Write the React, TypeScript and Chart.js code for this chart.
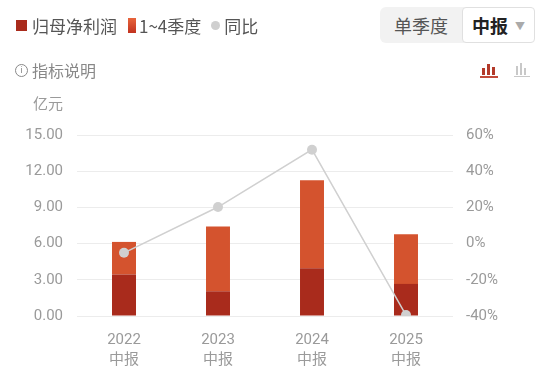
import React, { useEffect, useRef } from "react";
import { Chart, registerables } from "chart.js";
Chart.register(...registerables);

const years = ["2022", "2023", "2024", "2025"];
const periodLabel = "中报";
const netProfitPart = [3.44, 2.05, 3.96, 2.66]; // 归母净利润 (dark)
const quarterPart = [2.7, 5.37, 7.28, 4.12]; // 1~4季度 (orange)
const yoyPct = [-5.1, 20.2, 51.9, -39.5]; // 同比 %
const leftMin = 0, leftMax = 15, leftStep = 3;
const rightMin = -40, rightMax = 60, rightStep = 20;
const legendNames = ["归母净利润", "1~4季度", "同比"];

const CJK = "Roboto, 'Noto Sans CJK SC', sans-serif";
const DARK = "#a92b1c";
const ORANGE = "#d4532e";
const GREY = "#d0d0d0";

export default function App() {
  const ref = useRef<HTMLCanvasElement | null>(null);
  useEffect(() => {
    if (!ref.current) return;
    const chart = new Chart(ref.current, {
      type: "bar",
      data: {
        labels: years.map((y) => [y, periodLabel]),
        datasets: [
          {
            type: "line",
            label: legendNames[2],
            data: yoyPct,
            yAxisID: "y1",
            borderColor: GREY,
            borderWidth: 1.5,
            pointRadius: 5,
            pointBackgroundColor: "#d0d0d0",
            pointBorderWidth: 0,
            order: 0,
            tension: 0,
          } as any,
          {
            type: "bar",
            label: legendNames[0],
            data: netProfitPart,
            yAxisID: "y",
            backgroundColor: DARK,
            barPercentage: 0.255,
            categoryPercentage: 1,
            order: 1,
            stack: "s",
          },
          {
            type: "bar",
            label: legendNames[1],
            data: quarterPart,
            yAxisID: "y",
            backgroundColor: ORANGE,
            barPercentage: 0.255,
            categoryPercentage: 1,
            order: 1,
            stack: "s",
          },
        ],
      },
      options: {
        animation: false,
        responsive: false,
        maintainAspectRatio: false,
        layout: { padding: { top: 135, left: 0, right: 0, bottom: 0 } },
        plugins: { legend: { display: false }, tooltip: { enabled: false } },
        scales: {
          x: {
            stacked: true,
            grid: { display: false, drawTicks: false },
            border: { display: false },
            ticks: { color: "#9a9a9a", font: { size: 15, family: CJK, lineHeight: 1.35 }, padding: 14, maxRotation: 0 },
            afterFit: (s: any) => { s.height = 65; },
          },
          y: {
            position: "left",
            stacked: true,
            min: leftMin,
            max: leftMax,
            ticks: {
              stepSize: leftStep,
              color: "#9a9a9a",
              font: { size: 15, family: CJK },
              padding: 14,
              callback: (v: any) => Number(v).toFixed(2),
            },
            grid: { color: "#ececec", drawTicks: false, lineWidth: 1 },
            border: { display: false },
            afterFit: (s: any) => { s.width = 77; },
          },
          y1: {
            position: "right",
            min: rightMin,
            max: rightMax,
            ticks: {
              stepSize: rightStep,
              color: "#9a9a9a",
              font: { size: 15, family: CJK },
              padding: 13,
              callback: (v: any) => `${v}%`,
            },
            grid: { display: false, drawTicks: false },
            border: { display: false },
            afterFit: (s: any) => { s.width = 97; },
          },
        },
      },
    });
    return () => chart.destroy();
  }, []);

  const font = "'Noto Sans CJK SC', sans-serif";
  return (
    <div style={{ position: "absolute", left: 0, top: 0, width: 550, height: 381, background: "#fff", fontFamily: font, overflow: "hidden" }}>
      <canvas ref={ref} width={550} height={381} style={{ position: "absolute", left: 0, top: 0, width: 550, height: 381 }} />
      {/* legend */}
      <div style={{ position: "absolute", left: 16, top: 13, height: 24, display: "flex", alignItems: "center", fontSize: 17, color: "#555", whiteSpace: "nowrap" }}>
        <span style={{ display: "inline-block", width: 11, height: 11, background: DARK, marginRight: 5 }} />
        <span>{legendNames[0]}</span>
        <span style={{ display: "inline-block", width: 8, height: 15, background: "linear-gradient(#e8653c, #c2321f)", marginLeft: 11, marginRight: 3 }} />
        <span>{legendNames[1]}</span>
        <span style={{ display: "inline-block", width: 9, height: 9, borderRadius: "50%", background: "#cfcfcf", marginLeft: 10, marginRight: 4 }} />
        <span>{legendNames[2]}</span>
      </div>
      {/* toggle buttons */}
      <div style={{ position: "absolute", left: 380, top: 7, width: 155, height: 36, background: "#f2f2f2", borderRadius: 6 }} />
      <div style={{ position: "absolute", left: 380, top: 7, width: 82, height: 36, display: "flex", alignItems: "center", justifyContent: "center", fontSize: 18, color: "#555" }}>单季度</div>
      <div style={{ position: "absolute", left: 462, top: 7, width: 71, height: 34, background: "#fff", border: "1px solid #e0e0e0", borderRadius: 4, display: "flex", alignItems: "center", justifyContent: "center", fontSize: 18, fontWeight: 700, color: "#222" }}>
        <span>中报</span>
        <span style={{ fontSize: 10, color: "#aaa", marginLeft: 7, fontWeight: 400 }}>▼</span>
      </div>
      {/* info row */}
      <div style={{ position: "absolute", left: 15, top: 59, height: 22, display: "flex", alignItems: "center", fontSize: 16, color: "#888" }}>
        <span style={{ display: "inline-flex", width: 11, height: 11, border: "1px solid #888", borderRadius: "50%", alignItems: "center", justifyContent: "center", fontSize: 9, lineHeight: 1, marginRight: 4, fontFamily: "Roboto, sans-serif" }}>i</span>
        <span>指标说明</span>
      </div>
      {/* chart type icons */}
      <div style={{ position: "absolute", left: 480, top: 63, width: 18, height: 15 }}>
        <div style={{ position: "absolute", left: 2, bottom: 3, width: 3, height: 7, background: "#b33a2a" }} />
        <div style={{ position: "absolute", left: 7, bottom: 3, width: 3, height: 11, background: "#b33a2a" }} />
        <div style={{ position: "absolute", left: 12, bottom: 3, width: 3, height: 8, background: "#b33a2a" }} />
        <div style={{ position: "absolute", left: 0, bottom: 0, width: 18, height: 2, background: "#c24a3a" }} />
      </div>
      <div style={{ position: "absolute", left: 514, top: 63, width: 16, height: 15 }}>
        <div style={{ position: "absolute", left: 2, bottom: 3, width: 2, height: 9, background: "#c8c8c8" }} />
        <div style={{ position: "absolute", left: 6, bottom: 3, width: 2, height: 12, background: "#c8c8c8" }} />
        <div style={{ position: "absolute", left: 10, bottom: 3, width: 2, height: 7, background: "#c8c8c8" }} />
        <div style={{ position: "absolute", left: 0, bottom: 1, width: 16, height: 1, background: "#c8c8c8" }} />
      </div>
      {/* unit */}
      <div style={{ position: "absolute", left: 33, top: 92, width: 30, textAlign: "right", fontSize: 15, color: "#9a9a9a" }}>亿元</div>
    </div>
  );
}
